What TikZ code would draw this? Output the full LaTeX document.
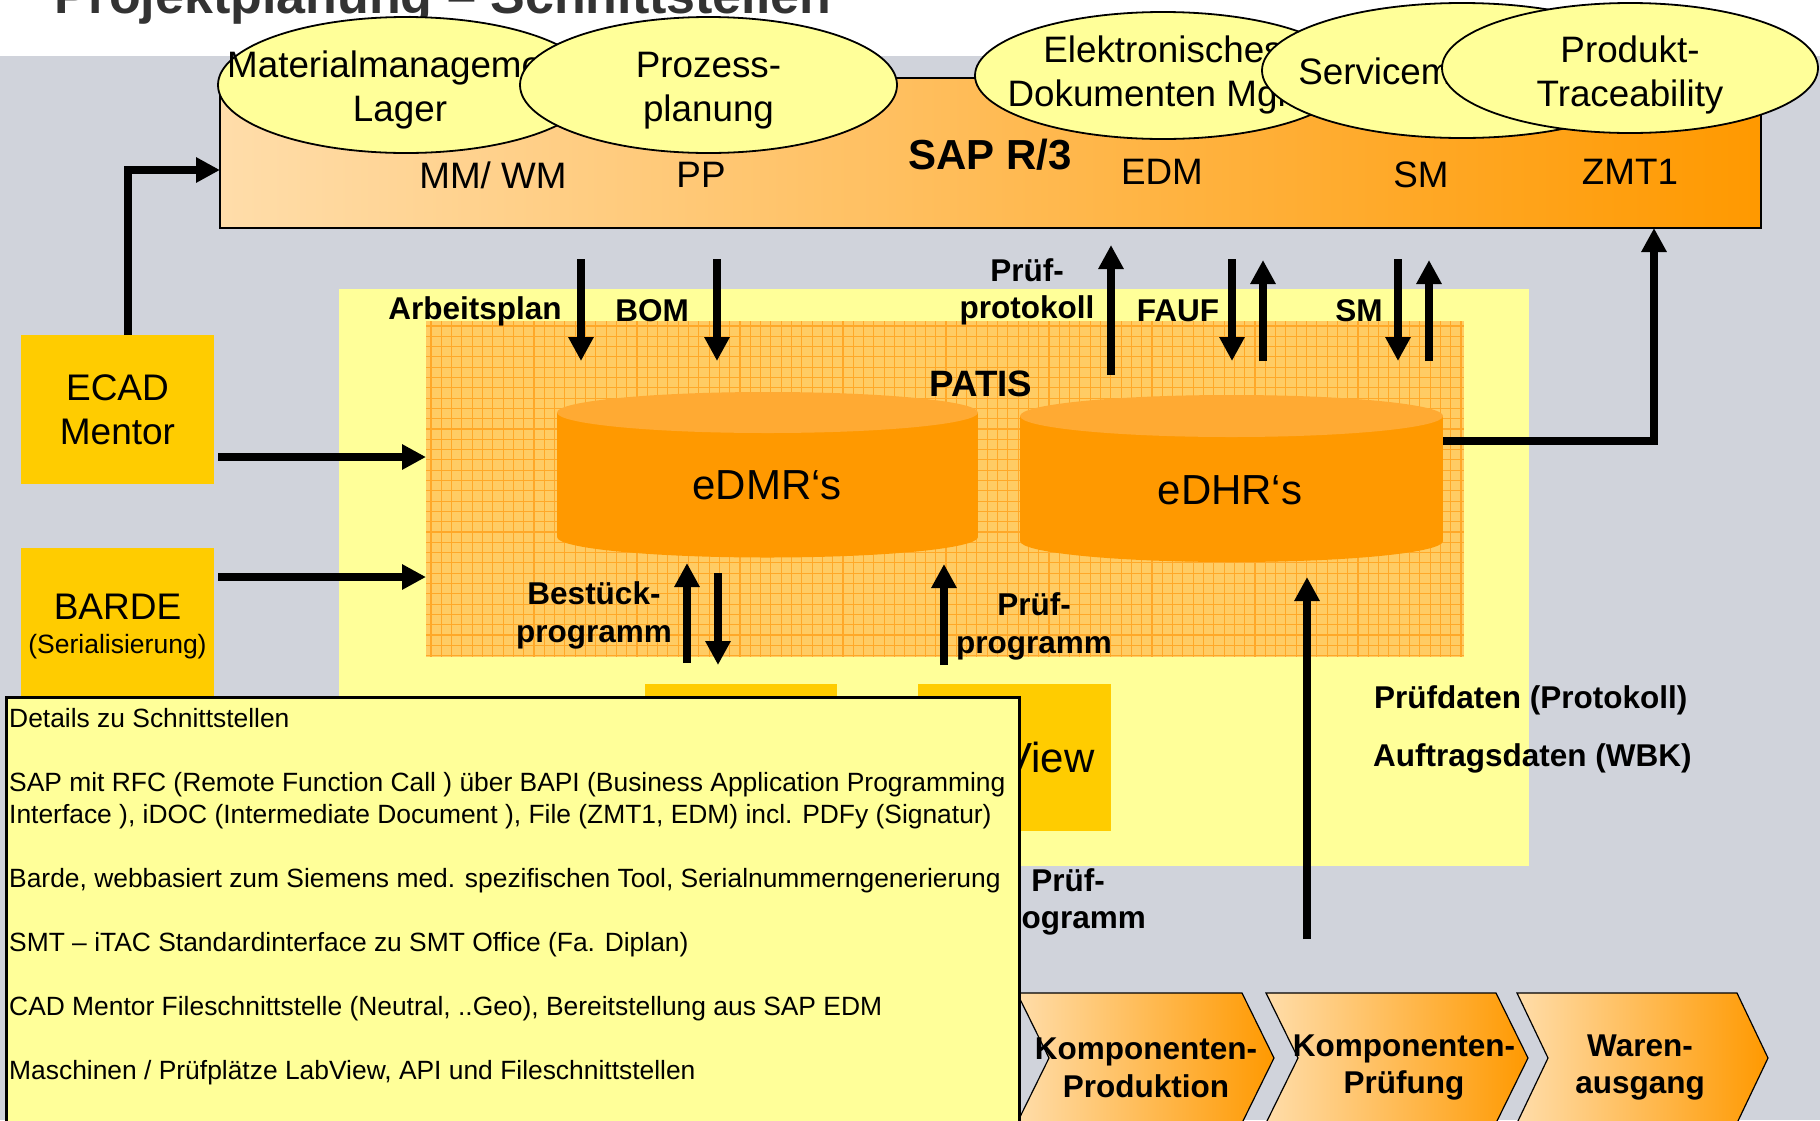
\documentclass[tikz,border=0pt]{standalone}
\usepackage{fontspec}
\setmainfont{Liberation Sans}
\usetikzlibrary{arrows.meta,calc,shapes.geometric}
\definecolor{bggray}{RGB}{208,211,219}
\definecolor{lyellow}{RGB}{255,255,153}
\definecolor{gold}{RGB}{255,204,0}
\definecolor{orng}{RGB}{255,153,0}
\definecolor{peach}{RGB}{255,221,170}
\definecolor{cyltop}{RGB}{255,170,51}
\definecolor{patisfill}{RGB}{255,204,100}
\definecolor{patisline}{RGB}{255,168,40}
\definecolor{titlegray}{RGB}{51,51,51}
\begin{document}
\begin{tikzpicture}[x=1pt,y=-1pt,
  arr/.style={line width=8pt,-{Triangle[width=24pt,length=24pt]}},
  goldbox/.style={fill=gold, inner sep=0pt, outer sep=0pt},
  ellip/.style={ellipse, draw=black, line width=1.8pt, fill=lyellow, inner sep=0pt},
  etext/.style={align=center, font=\fontsize{36.8}{44}\selectfont, inner sep=0pt},
  saptext/.style={font=\fontsize{36.8}{44}\selectfont, inner sep=0pt},
  lbl/.style={align=center, font=\bfseries\fontsize{31.5}{37.5}\selectfont, inner sep=0pt},
  chev/.style={draw=black, line width=1.2pt, left color=peach, right color=orng},
  cyltext/.style={font=\fontsize{42}{50}\selectfont, inner sep=0pt},
]
\useasboundingbox (0,0) rectangle (1820,1120);
\clip (0,0) rectangle (1820,1120);
% background
\fill[white] (0,0) rectangle (1820,56);
\fill[bggray] (0,56) rectangle (1820,1120);
\node[anchor=base west, inner sep=0pt, text=titlegray, font=\bfseries\fontsize{52}{60}\selectfont] (title) at (54,13.5) {Projektplanung – Schnittstellen};

% SAP box
\node[draw=black, line width=2.5pt, left color=peach, right color=orng, minimum width=1541pt, minimum height=150pt, anchor=north west, inner sep=0pt, outer sep=0pt] (sap) at (220,78) {};
\node[font=\bfseries\fontsize{42}{50}\selectfont, inner sep=0pt] (saprt) at (990,155) {SAP R/3};
\node[saptext] (mmwm) at (493,175) {MM/ WM};
\node[saptext] (pp) at (701,175) {PP};
\node[saptext] (edm) at (1162,172) {EDM};
\node[saptext] (smsap) at (1421,175) {SM};
\node[saptext] (zmt) at (1630,172) {ZMT1};

% ellipses
\node[ellip, minimum width=376pt, minimum height=136pt] (e1) at (406,85) {};
\node[etext] (t1) at (400,90) {Materialmanagement\\Lager};
\node[ellip, minimum width=377pt, minimum height=136pt] (e2) at (708.5,85) {};
\node[etext] (t2) at (708.5,90.5) {Prozess-\\planung};
\node[ellip, minimum width=376pt, minimum height=127pt] (e3) at (1163,75.5) {};
\node[etext] (t3) at (1163,75) {Elektronisches\\Dokumenten Mgmt};
\node[ellip, minimum width=400pt, minimum height=135pt] (e4) at (1462,70.5) {};
\node[etext] (t4) at (1467,75) {Servicemanagement};
\node[ellip, minimum width=376pt, minimum height=130pt] (e5) at (1630,68) {};
\node[etext] (t5) at (1630,75) {Produkt-\\Traceability};

% yellow area and PATIS
\node[fill=lyellow, minimum width=1190pt, minimum height=577pt, anchor=north west, inner sep=0pt, outer sep=0pt] (yel) at (339,289) {};
\node[fill=patisfill, minimum width=1038pt, minimum height=336pt, anchor=north west, inner sep=0pt, outer sep=0pt] (patis) at (426,321) {};
\begin{scope}
\clip (426,321) rectangle (1464,657);
\foreach \gx in {0,...,101} \draw[patisline, line width=1.1pt] (431+\gx*10.3,321) -- ++(0,336);
\foreach \gy in {0,...,32} \draw[patisline, line width=1.1pt] (426,326+\gy*10.3) -- ++(1038,0);
\end{scope}
\node[font=\bfseries\fontsize{36.7}{44}\selectfont, inner sep=0pt] (patislbl) at (981,384) {PATIS};

% cylinders
\fill[orng] (557,412.5) rectangle (978,537);
\fill[orng] (767.5,537) ellipse [x radius=210.5, y radius=20.5];
\fill[cyltop] (767.5,412.5) ellipse [x radius=210.5, y radius=20.5];
\node[inner sep=0pt, outer sep=0pt, minimum width=421pt, minimum height=165pt] (edmr) at (767.5,474.5) {};
\node[cyltext] (edmrt) at (767,485) {eDMR‘s};
\fill[orng] (1020,416) rectangle (1443,541);
\fill[orng] (1231.5,541) ellipse [x radius=211.5, y radius=21];
\fill[cyltop] (1231.5,416) ellipse [x radius=211.5, y radius=21];
\node[inner sep=0pt, outer sep=0pt, minimum width=423pt, minimum height=167pt] (edhr) at (1231.5,478.5) {};
\node[cyltext] (edhrt) at (1230,490) {eDHR‘s};

% gold boxes
\node[goldbox, minimum width=193pt, minimum height=149pt, align=center, font=\fontsize{37}{44}\selectfont] (ecad) at (117.5,409.5) {ECAD\\Mentor};
\node[goldbox, minimum width=193pt, minimum height=149pt] (barde) at (117.5,622.5) {};
\node[font=\fontsize{37}{44}\selectfont, inner sep=0pt] (bardet) at (117.5,607) {BARDE};
\node[font=\fontsize{26.5}{32}\selectfont, inner sep=0pt] (bardesub) at (117.5,647) {(Serialisierung)};
\node[goldbox, minimum width=192pt, minimum height=147pt] (smtbox) at (741,757.5) {};
\node[goldbox, minimum width=193pt, minimum height=147pt, font=\fontsize{42}{50}\selectfont] (labview) at (1014.5,757.5) {LabView};

% labels
\node[lbl] (lap) at (475,311) {Arbeitsplan};
\node[lbl] (lbom) at (652,311) {BOM};
\node[lbl] (lpp) at (1027,292) {Prüf-\\protokoll};
\node[lbl] (lfauf) at (1178,311) {FAUF};
\node[lbl] (lsm) at (1359,311) {SM};
\node[lbl] (lbest) at (594,615.5) {Bestück-\\programm};
\node[lbl] (lpr1) at (1034,626.5) {Prüf-\\programm};
\node[lbl] (lpr2) at (1068,902) {Prüf-\\programm};
\node[lbl, anchor=west] (lpd) at (1374,700) {Prüfdaten (Protokoll)};
\node[lbl, anchor=west] (lad) at (1373,758) {Auftragsdaten (WBK)};

% arrow end points
\coordinate (apS) at (581,259);  \coordinate (apE) at (581,361);
\coordinate (bomS) at (717,259); \coordinate (bomE) at (717,361);
\coordinate (ppS) at (1111,375); \coordinate (ppE) at (1111,245);
\coordinate (faS) at (1232,259); \coordinate (faE) at (1232,361);
\coordinate (fbS) at (1263,361); \coordinate (fbE) at (1263,260);
\coordinate (saS) at (1398,259); \coordinate (saE) at (1398,361);
\coordinate (sbS) at (1429,361); \coordinate (sbE) at (1429,260);
\coordinate (buS) at (687,663);  \coordinate (buE) at (687,563);
\coordinate (bdS) at (718,573);  \coordinate (bdE) at (718,665);
\coordinate (puS) at (944,665);  \coordinate (puE) at (944,564);
\coordinate (pdS) at (1307,939); \coordinate (pdE) at (1307,577);
\coordinate (ecout) at ([xshift=4pt,yshift=-47.5pt]ecad.east);
\coordinate (bdout) at ([xshift=4pt,yshift=45.5pt]barde.east);
\coordinate (dhout) at ([yshift=37.5pt]edhr.east);

% arrows
\draw[arr, line join=miter] ([xshift=10.5pt]ecad.north) |- ([yshift=-17pt]sap.west);
\draw[arr] (ecout) -- (ecout -| patis.west);
\draw[arr] (bdout) -- (bdout -| patis.west);
\draw[arr] (apS) -- (apE);
\draw[arr] (bomS) -- (bomE);
\draw[arr] (ppS) -- (ppE);
\draw[arr] (faS) -- (faE);
\draw[arr] (fbS) -- (fbE);
\draw[arr] (saS) -- (saE);
\draw[arr] (sbS) -- (sbE);
\draw[arr, line join=miter] (dhout) -| ([xshift=-107pt]sap.south east);
\draw[arr] (buS) -- (buE);
\draw[arr] (bdS) -- (bdE);
\draw[arr] (puS) -- (puE);
\draw[arr] (pdS) -- (pdE);

% chevrons
\path[chev] (1017,993) -- (1242,993) -- (1274,1058) -- (1242,1123) -- (1017,1123) -- (1049,1058) -- cycle;
\node[lbl] (k1) at (1146,1068) {Komponenten-\\Produktion};
\path[chev] (1266,993) -- (1496,993) -- (1528,1058) -- (1496,1123) -- (1266,1123) -- (1298,1058) -- cycle;
\node[lbl] (k2) at (1404,1067.5) {Komponenten-\\Prüfung};
\path[chev] (1517,993) -- (1737,993) -- (1768,1058) -- (1737,1123) -- (1517,1123) -- (1548,1058) -- cycle;
\node[lbl] (k3) at (1640,1067.5) {Waren-\\ausgang};

% details box
\node[draw=black, line width=3pt, fill=lyellow, anchor=north west, minimum width=1013pt, minimum height=440pt, inner sep=0pt, outer sep=0pt] (details) at (6,697) {};
\node[anchor=north west, align=left, inner sep=0pt, font=\fontsize{26.4}{32}\selectfont] (detailtext) at (9,708) {Details zu Schnittstellen\\[32pt]
SAP mit RFC (Remote Function Call ) über BAPI (Business Application Programming\\
Interface ), iDOC (Intermediate Document ), File (ZMT1, EDM) incl. PDFy (Signatur)\\[32pt]
Barde, webbasiert zum Siemens med. spezifischen Tool, Serialnummerngenerierung\\[32pt]
SMT – iTAC Standardinterface zu SMT Office (Fa. Diplan)\\[32pt]
CAD Mentor Fileschnittstelle (Neutral, ..Geo), Bereitstellung aus SAP EDM\\[32pt]
Maschinen / Prüfplätze LabView, API und Fileschnittstellen};
\end{tikzpicture}
\end{document}
